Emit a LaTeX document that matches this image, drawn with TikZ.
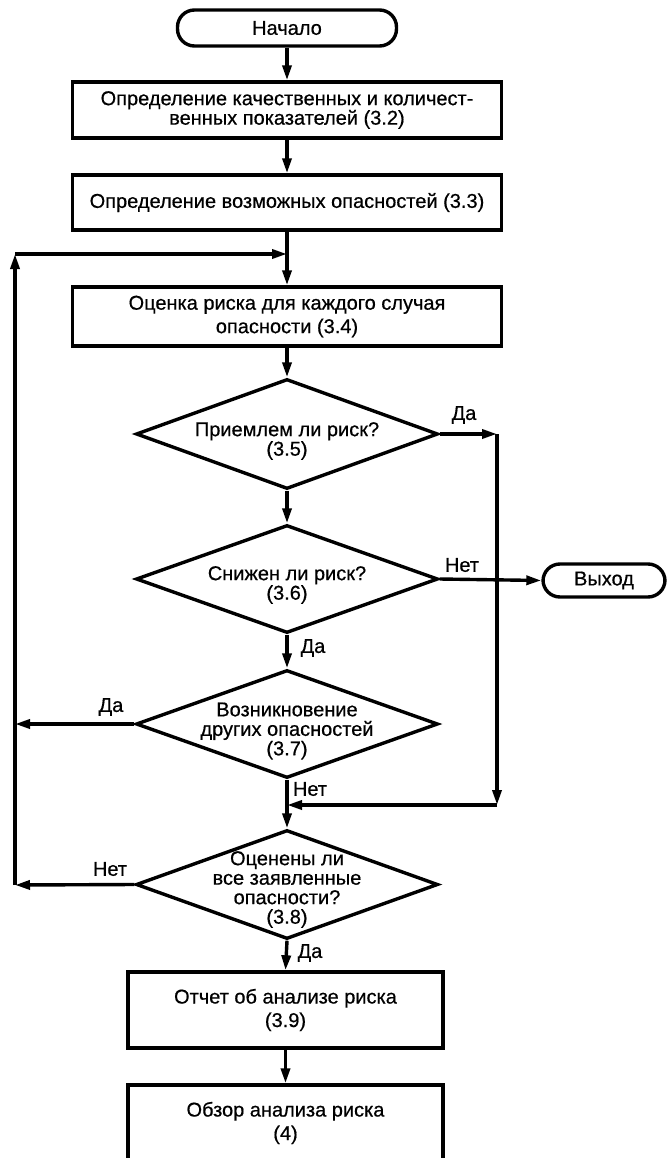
\documentclass[tikz,border=0pt]{standalone}
\usepackage{fontspec}
\setmainfont{Liberation Sans}[FakeBold=0.6]
\usetikzlibrary{shapes.geometric,arrows.meta}
\begin{document}
\begin{tikzpicture}[x=1pt,y=-1pt,line width=3.4pt,
  every node/.style={font=\fontsize{20}{19.5}\selectfont},
  term/.style={draw,rounded corners=17pt,inner sep=0pt},
  box/.style={draw,rectangle,inner sep=0pt,align=center},
  wide/.style={font=\fontsize{20}{23.5}\selectfont},
  dia/.style={draw,diamond,inner sep=0pt},
  txt/.style={align=center,inner sep=0pt},
  lbl/.style={inner sep=0pt},
  arr/.style={-{Triangle[length=15pt,width=9pt]}}]
\useasboundingbox (0,0) rectangle (668,1158);
\clip (0,0) rectangle (668,1158);

\node[term,minimum width=219pt,minimum height=36pt] (start) at (287,28) {Начало};
\node[box,minimum width=429pt,minimum height=56pt] (b1) at (287,110)
  {Определение качественных и количест-\\венных показателей (3.2)};
\node[box,minimum width=429pt,minimum height=55pt] (b2) at (287,202.5)
  {Определение возможных опасностей (3.3)};
\node[box,wide,minimum width=429pt,minimum height=59pt] (b3) at (287,316.5)
  {Оценка риска для каждого случая\\опасности (3.4)};

\node[dia,minimum width=302pt,minimum height=110pt] (d1) at (287,434) {};
\node[txt] (t1) at ([yshift=-7pt]d1.center) {Приемлем ли риск?\\(3.5)};
\node[dia,minimum width=302pt,minimum height=108pt] (d2) at (287,579) {};
\node[txt] (t2) at ([yshift=-6pt]d2.center) {Снижен ли риск?\\(3.6)};
\node[dia,minimum width=302pt,minimum height=108pt] (d3) at (287,724) {};
\node[txt] (t3) at ([yshift=-7pt]d3.center) {Возникновение\\других опасностей\\(3.7)};
\node[dia,minimum width=302pt,minimum height=109pt] (d4) at (287,884.5) {};
\node[txt] (t4) at ([yshift=-5pt]d4.center) {Оценены ли\\все заявленные\\опасности?\\(3.8)};

\node[term,minimum width=122pt,minimum height=33pt] (exit) at (604,580.5) {Выход};

\node[box,wide,minimum width=315pt,minimum height=76pt] (b4) at (285.5,1010)
  {Отчет об анализе риска\\(3.9)};
\node[box,wide,minimum width=315pt,minimum height=76pt] (b5) at (285.5,1123)
  {Обзор анализа риска\\(4)};

\coordinate (j1) at (287,254);
\coordinate (lt) at (15,254);
\coordinate (lb) at (15,885);
\coordinate (l3) at (15,724);
\coordinate (r1) at (497,434);
\coordinate (r2) at (497,805);
\coordinate (j2) at (287,805);

\draw[arr] (start) -- (b1);
\draw[arr] (b1) -- (b2);
\draw[arr] (b2) -- (b3);
\draw[arr] (b3) -- (d1.north);
\draw[arr] (d1.south) -- (d2.north);
\draw[arr] (d2.south) -- (d3.north);
\draw[arr] (d3.south) -- (d4.north);
\draw[arr] (d4.south) -- (b4.north);
\draw[arr] (b4) -- (b5);

\draw[arr] (d1.east) -- (r1);
\draw[arr] (r1) -- (r2);
\draw[arr] (r2) -- (j2);
\draw[arr] (d2.east) -- (exit.west);
\draw[arr] (d3.west) -- (l3);
\draw[arr] (d4.west) -- (lb);
\draw[arr] (lb) -- (lt);
\draw[arr] (lt) -- (j1);

\node[lbl] (la1) at (464,415) {Да};
\node[lbl] (la2) at (462,565) {Нет};
\node[lbl] (la3) at (313,648) {Да};
\node[lbl] (la4) at (111,707) {Да};
\node[lbl] (la5) at (310,789) {Нет};
\node[lbl] (la6) at (110,869) {Нет};
\node[lbl] (la7) at (310,953) {Да};
\end{tikzpicture}
\end{document}
